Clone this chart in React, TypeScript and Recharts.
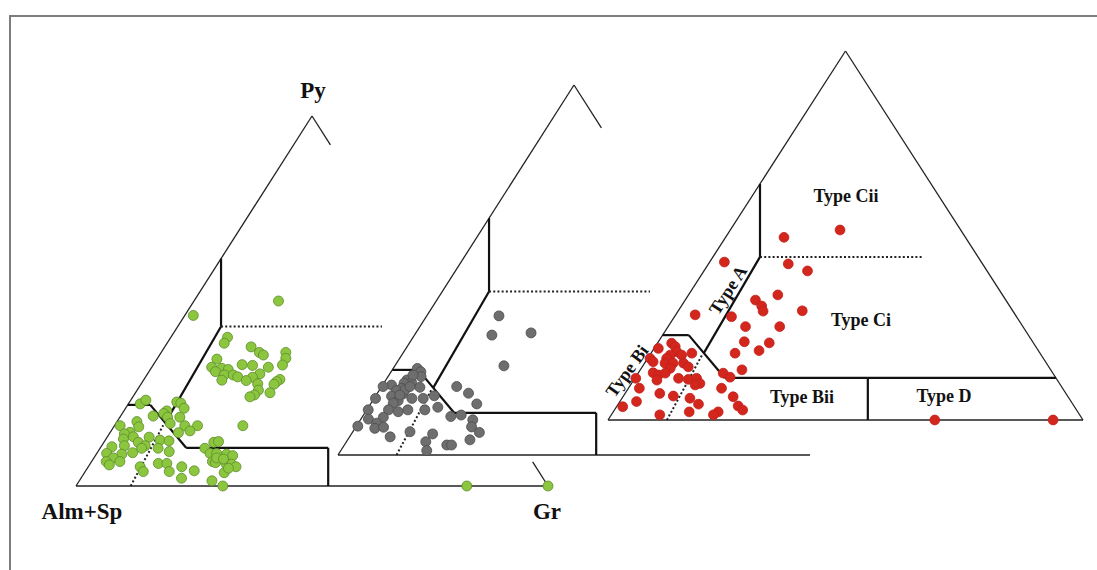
import React from 'react';
import { ScatterChart, Scatter, XAxis, YAxis, ReferenceLine, ReferenceDot } from 'recharts';

// Garnet analyses as [Gr %, Py %]; Alm+Sp is the remainder to 100.
const greenGarnets: [number, number][] = [
  [17.9, 50.0], [1.8, 46.1], [12.0, 40.2], [12.1, 38.6], [18.3, 37.6], [20.8, 36.1], [22.0, 35.4], [26.4, 36.1],
  [27.2, 34.5], [12.7, 34.3], [18.8, 32.8], [21.1, 32.6], [24.7, 32.1], [27.4, 32.7], [12.7, 32.1], [15.0, 31.8],
  [16.5, 31.5], [14.1, 30.9], [16.4, 30.0], [18.3, 30.0], [19.5, 29.5], [23.8, 30.3], [22.7, 29.4], [16.6, 28.6],
  [21.8, 28.5], [28.8, 28.8], [28.4, 28.2], [24.7, 27.6], [28.2, 27.5], [25.7, 25.9], [28.5, 25.2], [25.5, 24.6],
  [24.8, 24.1], [27.2, 16.3],
  [2.5, 22.2], [3.2, 23.2], [10.0, 22.7], [11.0, 22.4], [12.4, 21.0], [9.1, 20.3], [8.8, 19.6], [6.9, 18.9],
  [10.1, 18.6], [12.7, 18.6], [11.5, 16.9], [1.2, 16.3], [4.2, 17.4], [5.3, 16.0], [4.2, 14.5], [3.2, 14.1],
  [14.9, 16.3], [17.6, 16.3], [16.7, 14.9], [14.5, 14.4], [5.5, 13.3], [8.9, 13.2], [3.7, 12.7], [7.3, 11.8],
  [11.6, 12.4], [13.6, 12.2], [2.3, 10.6], [4.8, 10.9], [9.2, 10.9], [8.8, 10.2], [12.3, 10.2], [15.1, 9.3],
  [7.5, 9.0], [5.4, 8.6], [2.1, 8.8], [4.1, 7.6], [3.1, 6.6], [6.0, 6.6], [4.2, 5.7], [11.0, 5.2],
  [12.3, 3.9], [14.4, 6.1], [16.2, 6.1], [17.8, 3.9], [19.8, 5.2], [23.0, 4.1], [21.3, 2.1], [28.1, 1.4],
  [31.1, 0],
  [22.2, 10.2], [23.3, 11.8], [24.2, 12.0], [24.0, 8.8], [25.4, 8.8], [27.6, 8.6], [29.1, 8.2], [25.6, 6.6],
  [26.4, 6.3], [28.7, 6.1], [30.0, 5.9], [31.3, 5.2], [29.6, 3.6], [29.9, 4.8], [26.0, 7.6], [27.6, 7.3],
  [82.8, 0], [100, 0],
];

const greyGarnets: [number, number][] = [
  [15.3, 37.6], [16.4, 32.4], [24.4, 33.0], [23.1, 24.1], [5.1, 23.4], [6.3, 22.5], [7.0, 21.2], [4.5, 20.3],
  [5.8, 19.6], [4.3, 19.4], [1.9, 18.9], [0.3, 18.5], [8.2, 18.3], [4.5, 18.0], [3.7, 17.4], [15.9, 18.5],
  [19.3, 16.7], [5.5, 16.5], [3.4, 15.9], [0.3, 15.3], [8.0, 15.3], [10.4, 15.3], [12.4, 16.0], [5.4, 14.7],
  [4.7, 14.0], [22.5, 13.8], [14.7, 12.9], [12.3, 12.2], [4.6, 12.2], [8.7, 12.2], [6.9, 11.7], [0.3, 12.2],
  [4.5, 10.2], [1.6, 9.7], [18.7, 10.4], [20.7, 10.8], [23.8, 9.5], [3.9, 8.6], [24.5, 7.6], [4.2, 7.2],
  [5.9, 7.5], [0.3, 7.8], [26.9, 6.1], [12.1, 6.3], [17.2, 5.7], [8.6, 4.9], [25.9, 4.1], [16.8, 3.6],
  [21.7, 2.7], [22.7, 2.7], [18.2, 1.2], [5.4, 17.6], [5.0, 16.2], [6.0, 18.5], [5.1, 21.6],
];

const redGarnets: [number, number][] = [
  [12.3, 49.5], [23.1, 51.5], [3.1, 42.8], [16.8, 42.3], [21.8, 40.4], [18.8, 33.9], [14.8, 32.5], [16.9, 30.9],
  [17.9, 29.5], [26.1, 29.6], [4.1, 28.5], [12.0, 28.0], [16.3, 25.3], [23.5, 25.3], [18.1, 21.2], [23.5, 20.9],
  [22.4, 18.8], [17.7, 18.1], [21.4, 13.6], [17.9, 12.7], [19.9, 11.6],
  [0.9, 19.4], [3.0, 20.8], [4.2, 19.9], [5.2, 18.5], [4.3, 17.6], [4.0, 16.7], [0.5, 16.7], [1.6, 15.8],
  [6.7, 17.6], [8.6, 18.1], [4.3, 15.4], [6.0, 15.4], [8.2, 15.4], [9.7, 14.4], [6.1, 14.0], [3.1, 12.8],
  [4.5, 12.2], [5.7, 12.7], [9.2, 11.3], [11.4, 11.0], [13.0, 11.3], [4.9, 10.8], [14.4, 9.9], [13.6, 9.5],
  [0.2, 11.3], [2.3, 8.6], [3.5, 5.0], [1.3, 3.6], [7.3, 7.2], [10.5, 6.5], [14.3, 5.9], [16.9, 4.3],
  [16.0, 2.2], [10.2, 1.4], [19.6, 8.6], [23.2, 6.3], [25.5, 3.8], [27.0, 2.7], [22.1, 2.2], [21.5, 1.4],
  [68.8, 0], [93.7, 0],
];

// Field boundaries as polylines of [Gr, Py] vertices.
const boundaryBi: [number, number][] = [[0, 23], [5.5, 23], [18.9, 11.4], [49, 11.4]];
const boundaryBiiD: [number, number][] = [[49, 11.4], [54.7, 0]];
const boundaryA: [number, number][] = [[11.1, 18.2], [9.9, 44.2], [0, 64]];
const boundaryBiiCi: [number, number][] = [[49, 11.4], [88.6, 11.4]];
const dottedCiCii: [number, number][] = [[9.9, 44.2], [44, 44.2]];
const dottedBi: [number, number][] = [[12.4, 0], [11.0, 17.5]];

const fieldLabels = ['Type Cii', 'Type Ci', 'Type Bii', 'Type D', 'Type A', 'Type Bi'];
const cornerLabels = ['Py', 'Alm+Sp', 'Gr'];

type Panel = {
  left: [number, number];
  base: number;
  height: number;
  shift: [number, number];
  full: boolean;
  rightEdge: [number, number][];
};

// Three overlapping diagrams; the first two show only the Alm+Sp side.
const panels: Panel[] = [
  { left: [76, 486], base: 472, height: 370, shift: [-0.73, -1.08], full: false, rightEdge: [[92.2, 100], [0, 6.5]] },
  { left: [338, 455], base: 472, height: 370, shift: [0, 0], full: false, rightEdge: [[88.4, 100], [0, 6.8]] },
  { left: [608, 420], base: 475, height: 369, shift: [0, 0], full: true, rightEdge: [[0, 100]] },
];

const project = (p: Panel, gr: number, py: number) => ({
  x: p.left[0] + (p.base * (gr + py / 2)) / 100,
  y: p.left[1] - (p.height * py) / 100,
});

// Clip a ternary segment to the composition triangle.
const clip = (a: [number, number], b: [number, number]) => {
  const tests = [(g: number, _p: number) => g, (_g: number, p: number) => p, (g: number, p: number) => 100 - g - p];
  let t0 = 0;
  let t1 = 1;
  for (const f of tests) {
    const f0 = f(a[0], a[1]);
    const f1 = f(b[0], b[1]);
    if (f0 < 0 && f1 < 0) return null;
    if (f0 < 0) t0 = Math.max(t0, f0 / (f0 - f1));
    if (f1 < 0) t1 = Math.min(t1, f0 / (f0 - f1));
  }
  const lerp = (t: number): [number, number] => [a[0] + (b[0] - a[0]) * t, a[1] + (b[1] - a[1]) * t];
  return [lerp(t0), lerp(t1)] as [[number, number], [number, number]];
};

type Seg = { x1: number; y1: number; x2: number; y2: number; kind: 'frame' | 'field' | 'dot' };

const segments: Seg[] = [];
panels.forEach((p) => {
  const add = (a: [number, number], b: [number, number], kind: Seg['kind'], shifted: boolean) => {
    const sa: [number, number] = shifted ? [a[0] + p.shift[0], a[1] + p.shift[1]] : a;
    const sb: [number, number] = shifted ? [b[0] + p.shift[0], b[1] + p.shift[1]] : b;
    const c = clip(sa, sb);
    if (!c) return;
    const u = project(p, c[0][0], c[0][1]);
    const v = project(p, c[1][0], c[1][1]);
    segments.push({ x1: u.x, y1: u.y, x2: v.x, y2: v.y, kind });
  };
  const poly = (pts: [number, number][], kind: Seg['kind']) => {
    for (let i = 0; i < pts.length - 1; i++) add(pts[i], pts[i + 1], kind, true);
  };
  add([0, 0], [0, 100], 'frame', false);
  add([0, 0], [100, 0], 'frame', false);
  p.rightEdge.forEach(([lo, hi]) => add([100 - lo, lo], [100 - hi, hi], 'frame', false));
  poly(boundaryBi, 'field');
  poly(boundaryBiiD, 'field');
  poly(boundaryA, 'field');
  if (p.full) poly(boundaryBiiCi, 'field');
  poly(dottedCiCii, 'dot');
  poly(dottedBi, 'dot');
});

const toXY = (p: Panel, rows: [number, number][]) => rows.map(([gr, py]) => project(p, gr, py));

const greenData = toXY(panels[0], greenGarnets);
const greyData = toXY(panels[1], greyGarnets);
const redData = toXY(panels[2], redGarnets);

const dot = (fill: string, stroke: string, r: number) => (props: any) => (
  <circle cx={props.cx} cy={props.cy} r={r} fill={fill} stroke={stroke} strokeWidth={0.8} />
);

const serif = "'Liberation Serif', 'Times New Roman', serif";

type Lbl = { text: string; x: number; y: number; size: number; rotate?: number };

const labels: Lbl[] = [
  { text: fieldLabels[0], x: 846, y: 196, size: 18 },
  { text: fieldLabels[1], x: 861, y: 320, size: 18 },
  { text: fieldLabels[2], x: 802, y: 397, size: 18 },
  { text: fieldLabels[3], x: 944, y: 396, size: 18 },
  { text: fieldLabels[4], x: 728, y: 290, size: 18, rotate: -57 },
  { text: fieldLabels[5], x: 627, y: 371, size: 18, rotate: -54 },
  { text: cornerLabels[0], x: 313, y: 90, size: 23 },
  { text: cornerLabels[1], x: 82, y: 511, size: 23 },
  { text: cornerLabels[2], x: 547, y: 511, size: 23 },
];

const labelShape = (l: Lbl) => (props: any) => (
  <text
    x={props.cx}
    y={props.cy}
    textAnchor="middle"
    dominantBaseline="central"
    fontFamily={serif}
    fontWeight="bold"
    fontSize={l.size}
    fill="#111"
    transform={l.rotate ? `rotate(${l.rotate} ${props.cx} ${props.cy})` : undefined}
  >
    {l.text}
  </text>
);

const segStyle = {
  frame: { stroke: '#222', strokeWidth: 1.3 },
  field: { stroke: '#111', strokeWidth: 2.2 },
  dot: { stroke: '#222', strokeWidth: 2, strokeDasharray: '2 2.2' },
};

export default function App() {
  return (
    <div style={{ position: 'absolute', left: 0, top: 0, width: 1097, height: 570, background: '#fff', overflow: 'hidden' }}>
      <div
        style={{
          position: 'absolute',
          left: 9,
          top: 15,
          width: 1300,
          height: 700,
          borderTop: '2px solid #7d7d7d',
          borderLeft: '2px solid #7d7d7d',
          boxSizing: 'border-box',
        }}
      />
      <div style={{ position: 'absolute', left: 0, top: 0 }}>
        <ScatterChart width={1097} height={570} margin={{ top: 0, right: 0, bottom: 0, left: 0 }}>
          <XAxis dataKey="x" type="number" domain={[0, 1097]} allowDataOverflow hide />
          <YAxis dataKey="y" type="number" domain={[0, 570]} allowDataOverflow reversed hide />
          {segments.map((s, i) => (
            <ReferenceLine
              key={`seg-${i}`}
              segment={[{ x: s.x1, y: s.y1 }, { x: s.x2, y: s.y2 }]}
              ifOverflow="visible"
              {...segStyle[s.kind]}
            />
          ))}
          <Scatter data={greenData} isAnimationActive={false} shape={dot('#8cc63f', '#5c8c2c', 5)} />
          <Scatter data={greyData} isAnimationActive={false} shape={dot('#6e6e6e', '#4d4d4d', 5)} />
          <Scatter data={redData} isAnimationActive={false} shape={dot('#d3271d', '#c0201a', 4.9)} />
          {labels.map((l, i) => (
            <ReferenceDot key={`lbl-${i}`} x={l.x} y={l.y} r={0} ifOverflow="visible" shape={labelShape(l)} />
          ))}
        </ScatterChart>
      </div>
    </div>
  );
}
